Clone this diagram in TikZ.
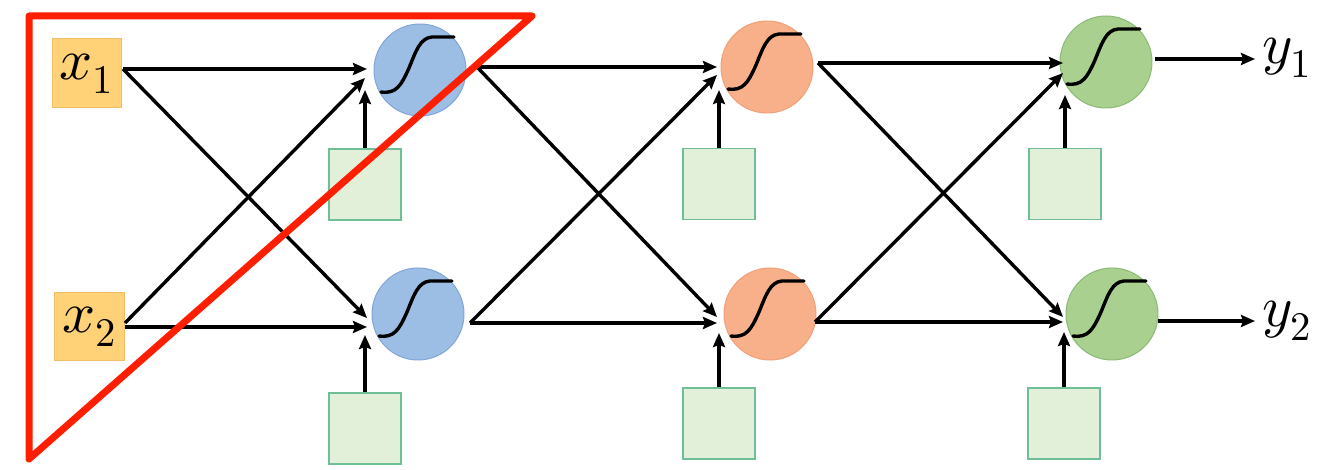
\documentclass[tikz,border=0pt]{standalone}
\usepackage{unicode-math}
\setmathfont{Latin Modern Math}
\usetikzlibrary{arrows.meta}
\definecolor{inboxf}{RGB}{255,210,120}
\definecolor{inboxd}{RGB}{240,190,100}
\definecolor{bluef}{RGB}{157,190,228}
\definecolor{blued}{RGB}{130,165,215}
\definecolor{orangef}{RGB}{248,176,138}
\definecolor{oranged}{RGB}{240,160,120}
\definecolor{greenf}{RGB}{169,208,142}
\definecolor{greend}{RGB}{140,185,120}
\definecolor{biasf}{RGB}{226,240,218}
\definecolor{biasd}{RGB}{110,190,150}
\definecolor{redl}{RGB}{255,30,0}
\newcommand{\sigcurve}[1]{\draw[line width=3.4pt,line cap=round,shift={(#1)}] (-39,22) .. controls (-24,24) and (-19,16) .. (-11,-2) .. controls (-4,-19) and (0,-32) .. (12,-33) -- (34,-33);}
\begin{document}
\begin{tikzpicture}[x=1pt,y=-1pt,
  conn/.style={line width=3.4pt,-{Stealth[length=14pt,width=12pt,inset=2pt]}},
  inputbox/.style={draw=inboxd,fill=inboxf,line width=1pt,minimum width=69pt,minimum height=69pt,inner sep=0pt,font=\fontsize{58}{60}\selectfont},
  biasbox/.style={draw=biasd,fill=biasf,line width=1.5pt,minimum width=72pt,minimum height=71pt,inner sep=0pt},
  neuron/.style={circle,minimum size=92pt,inner sep=0pt,line width=1pt},
  bneuron/.style={neuron,fill=bluef,draw=blued},
  oneuron/.style={neuron,fill=orangef,draw=oranged},
  gneuron/.style={neuron,fill=greenf,draw=greend},
  outlabel/.style={inner sep=0pt,font=\fontsize{58}{60}\selectfont},
  redtri/.style={draw=redl,line width=7pt,line join=round}
]
\useasboundingbox (0,0) rectangle (1326,470);
% inputs
\node[inputbox] (x1) at (86.5,73.5) {\raisebox{-4pt}{$x_1$}};
\node[inputbox,minimum width=70pt,minimum height=68pt] (x2) at (89,327) {\raisebox{-4pt}{$x_2$}};
% neurons
\node[bneuron] (b1) at (420,70) {};
\node[bneuron] (b2) at (418,314) {};
\node[oneuron] (o1) at (767,67) {};
\node[oneuron] (o2) at (770,314) {};
\node[gneuron] (g1) at (1106,62) {};
\node[gneuron] (g2) at (1112,314) {};
\sigcurve{b1}\sigcurve{b2}\sigcurve{o1}\sigcurve{o2}\sigcurve{g1}\sigcurve{g2}
% biases
\node[biasbox] (bb1) at (365,184.5) {};
\node[biasbox] (bb2) at (365,428.5) {};
\node[biasbox] (ob1) at (719,184) {};
\node[biasbox] (ob2) at (719,423.5) {};
\node[biasbox] (gb1) at (1065,184) {};
\node[biasbox] (gb2) at (1064,423.5) {};
% outputs labels
\node[outlabel] (y1) at (1287,58) {$y_1$};
\node[outlabel] (y2) at (1287,321) {$y_2$};
% connection points
\coordinate (x1o) at (123,69);
\coordinate (x2o) at (125,323);
\coordinate (b1h) at (367,69);
\coordinate (b1d) at (365,78);
\coordinate (b1b) at (365,90);
\coordinate (b2h) at (367,327);
\coordinate (b2d) at (367,318);
\coordinate (b2b) at (365,335);
\coordinate (b1o) at (477,67);
\coordinate (b2o) at (470,323);
\coordinate (o1h) at (717,67);
\coordinate (o1d) at (717,75);
\coordinate (o1b) at (719,90);
\coordinate (o2h) at (717,323);
\coordinate (o2d) at (717,317);
\coordinate (o2b) at (719,333);
\coordinate (o1o) at (818,63);
\coordinate (o2o) at (815,322);
\coordinate (g1h) at (1063,63);
\coordinate (g1d) at (1063,73);
\coordinate (g1b) at (1065,95);
\coordinate (g2h) at (1063,322);
\coordinate (g2d) at (1063,317);
\coordinate (g2b) at (1064,332);
\coordinate (g1o) at (1155,59);
\coordinate (g2o) at (1158,321);
\coordinate (y1e) at (1255,59);
\coordinate (y2e) at (1255,321);
% layer 1
\draw[conn] (x1o) -- (b1h);
\draw[conn] (x1o) -- (b2d);
\draw[conn] (x2o) -- (b1d);
\draw[conn] (x2o |- b2h) -- (b2h);
\draw[conn] (bb1.north) -- (b1b);
\draw[conn] (bb2.north) -- (b2b);
% layer 2
\draw[conn] (b1o) -- (o1h);
\draw[conn] (b1o) -- (o2d);
\draw[conn] (b2o) -- (o1d);
\draw[conn] (b2o) -- (o2h);
\draw[conn] (ob1.north) -- (o1b);
\draw[conn] (ob2.north) -- (o2b);
% layer 3
\draw[conn] (o1o) -- (g1h);
\draw[conn] (o1o) -- (g2d);
\draw[conn] (o2o) -- (g1d);
\draw[conn] (o2o) -- (g2h);
\draw[conn] (gb1.north) -- (g1b);
\draw[conn] (gb2.north) -- (g2b);
% outputs
\draw[conn] (g1o) -- (y1e);
\draw[conn] (g2o) -- (y2e);
% red triangle
\coordinate (ta) at (29,16);
\coordinate (tb) at (532,16);
\coordinate (tc) at (29,459);
\draw[redtri] (ta) -- (tb) -- (tc) -- cycle;
\end{tikzpicture}
\end{document}
